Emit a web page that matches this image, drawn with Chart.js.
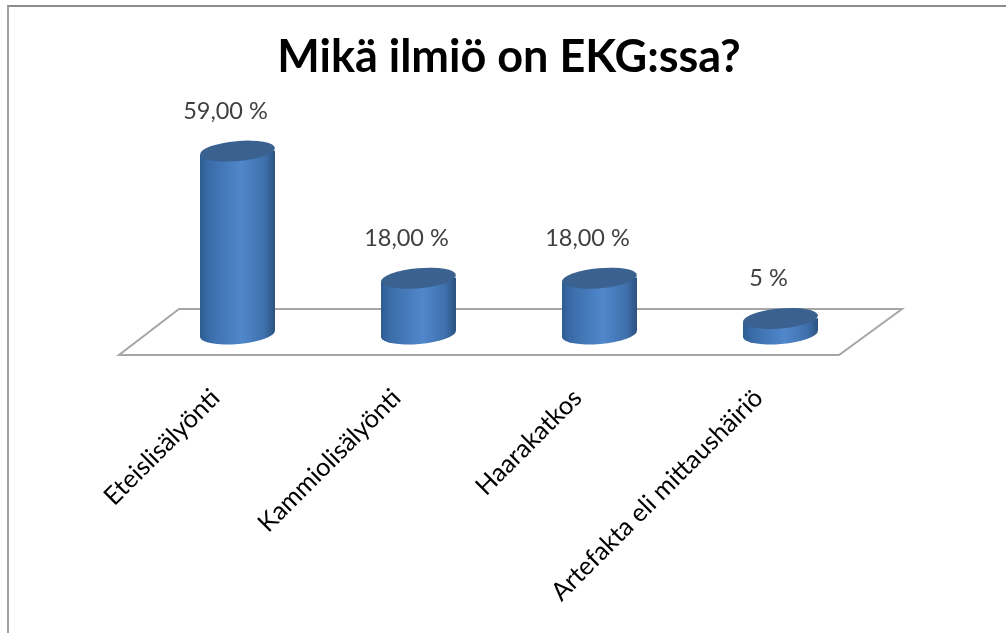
<!DOCTYPE html>
<html><head><meta charset="utf-8">
<style>html,body{margin:0;padding:0;background:#fff;overflow:hidden}
#wrap{position:relative;width:1006px;height:633px}
#frame{position:absolute;left:7px;top:5px;right:-4px;bottom:-4px;border:2px solid #a0a0a0;border-top-color:#8c8c8c;box-sizing:border-box}
canvas{position:absolute;left:0;top:0}</style>
<script src="https://cdn.jsdelivr.net/npm/chart.js@4/dist/chart.umd.min.js"></script>
</head><body><div id="wrap"><div id="frame"></div><canvas id="c" width="1006" height="633"></canvas></div>
<script>
const categories = ["Eteislisälyönti","Kammiolisälyönti","Haarakatkos","Artefakta eli mittaushäiriö"];
const values = [59,18,18,5];
const valueLabels = ["59,00 %","18,00 %","18,00 %","5 %"];
const titleText = "Mikä ilmiö on EKG:ssa?";

const RX = 37.5, RY = 10, TILT = -5*Math.PI/180, DY = RX*Math.tan(5*Math.PI/180);
function sideGradient(ctx, x){
  const g = ctx.createLinearGradient(x-RX,0,x+RX,0);
  g.addColorStop(0,'#2e5c92');
  g.addColorStop(0.12,'#3a6ca8');
  g.addColorStop(0.55,'#5088cc');
  g.addColorStop(0.86,'#3f70ac');
  g.addColorStop(1,'#2c5280');
  return g;
}
const cylinder3d = {
  id:'cylinder3d',
  beforeDatasetsDraw(chart){
    const {ctx, chartArea:a} = chart;
    const yb = a.bottom;
    ctx.save();
    ctx.strokeStyle='#a6a6a6'; ctx.lineWidth=2; ctx.lineJoin='miter';
    ctx.beginPath();
    ctx.moveTo(a.left-28,yb+21);
    ctx.lineTo(a.right-32,yb+21);
    ctx.lineTo(a.right+31,yb-25);
    ctx.lineTo(a.left+32,yb-25);
    ctx.closePath(); ctx.stroke();
    ctx.restore();
    const meta = chart.getDatasetMeta(0);
    meta.data.forEach(bar=>{
      const grad = sideGradient(ctx,bar.x);
      const o = Object.create(bar.options);
      o.backgroundColor = grad;
      bar.options = o;
      if(!bar._clipped){
        bar._clipped = true;
        const d = bar.draw;
        bar.draw = function(c){
          c.save();
          c.beginPath();
          c.moveTo(this.x-RX,this.y+DY);
          c.lineTo(this.x+RX,this.y-DY);
          c.lineTo(this.x+RX,this.base-DY);
          c.lineTo(this.x-RX,this.base+DY);
          c.closePath();
          c.clip();
          d.call(this,c);
          c.restore();
        };
      }
      ctx.save();
      ctx.fillStyle = grad;
      ctx.beginPath();
      ctx.moveTo(bar.x-RX,bar.base-6);
      ctx.lineTo(bar.x-RX,bar.base+DY);
      ctx.lineTo(bar.x+RX,bar.base-DY);
      ctx.lineTo(bar.x+RX,bar.base-6);
      ctx.closePath();
      ctx.fill();
      ctx.beginPath();
      ctx.ellipse(bar.x,bar.base,RX,RY,TILT,0,Math.PI*2);
      ctx.fill();
      ctx.restore();
    });
  },
  afterDatasetsDraw(chart){
    const {ctx} = chart;
    const meta = chart.getDatasetMeta(0);
    meta.data.forEach((bar,i)=>{
      ctx.save();
      ctx.fillStyle='#3a6190';
      ctx.beginPath();
      ctx.ellipse(bar.x,bar.y,RX,RY,TILT,0,Math.PI*2);
      ctx.fill();
      ctx.restore();
      ctx.save();
      ctx.font='23.5px Lato';
      ctx.fillStyle='#404040';
      ctx.textAlign='center'; ctx.textBaseline='middle';
      ctx.fillText(valueLabels[i],bar.x-12,bar.y-40);
      ctx.restore();
    });
  }
};
new Chart(document.getElementById('c'),{
  type:'bar',
  data:{labels:categories,datasets:[{data:values,barThickness:75,borderWidth:0,backgroundColor:'#3f70ac'}]},
  options:{
    responsive:false,animation:false,devicePixelRatio:1,
    layout:{padding:{left:147,right:135,top:20,bottom:0}},
    plugins:{legend:{display:false},tooltip:{enabled:false},
      title:{display:true,text:titleText,color:'#000',
        font:{family:'Lato',size:45,weight:'bold',lineHeight:1.2},
        padding:{top:10,bottom:64}}},
    scales:{
      y:{display:false,min:0,max:60},
      x:{grid:{display:false},border:{display:false},
        afterFit(s){s.height=299;},
        ticks:{autoSkip:false,minRotation:45,maxRotation:45,padding:41,labelOffset:-22,
          color:'#000',font:{family:'Lato',size:25.3}}}
    }
  },
  plugins:[cylinder3d]
});
</script></body></html>
